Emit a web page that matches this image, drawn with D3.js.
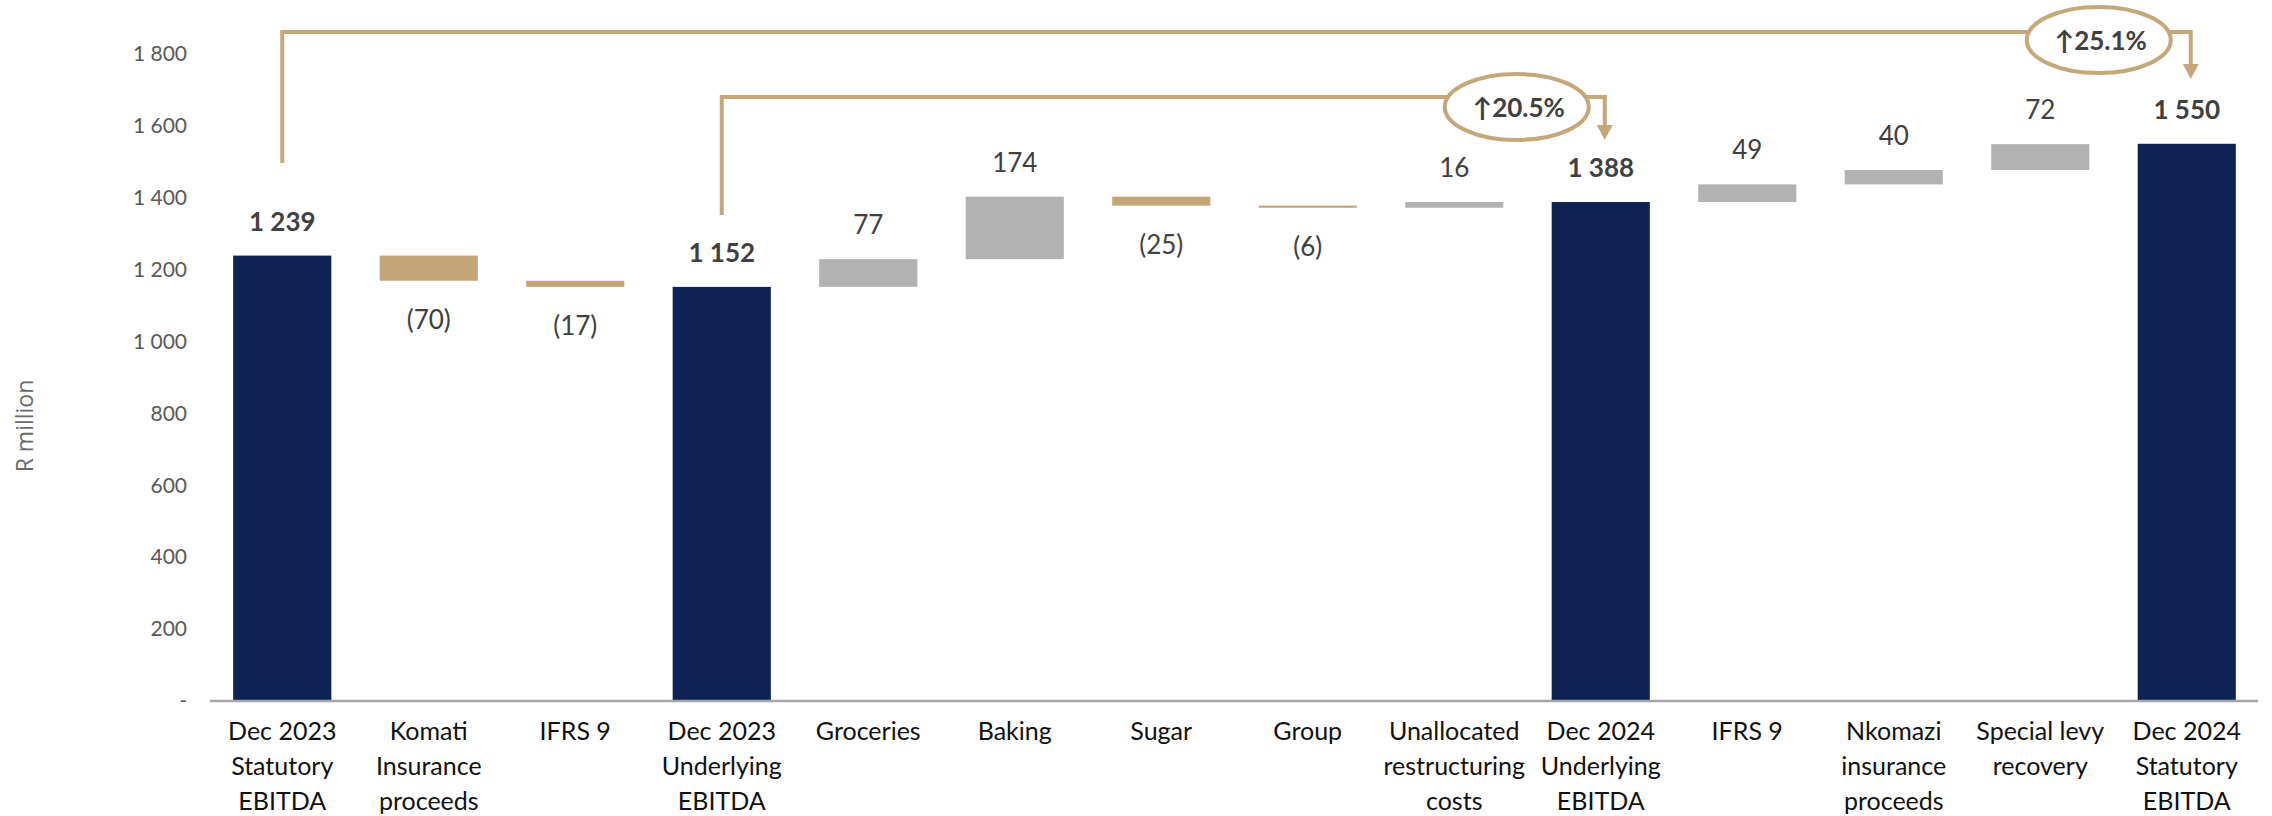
<!DOCTYPE html>
<html>
<head>
<meta charset="utf-8">
<script src="https://cdn.jsdelivr.net/npm/d3@7"></script>
<style>
  html, body { margin: 0; padding: 0; background: #fff; }
  svg { display: block; }
</style>
</head>
<body>
<div id="chart"></div>
<script>
// EBITDA bridge, R million
const categories = [
  ["Dec 2023", "Statutory", "EBITDA"],
  ["Komati", "Insurance", "proceeds"],
  ["IFRS 9"],
  ["Dec 2023", "Underlying", "EBITDA"],
  ["Groceries"],
  ["Baking"],
  ["Sugar"],
  ["Group"],
  ["Unallocated", "restructuring", "costs"],
  ["Dec 2024", "Underlying", "EBITDA"],
  ["IFRS 9"],
  ["Nkomazi", "insurance", "proceeds"],
  ["Special levy", "recovery"],
  ["Dec 2024", "Statutory", "EBITDA"]
];
// "total" bars start at zero; "delta" bars float on the running total
const kinds  = ["total", "delta", "delta", "total", "delta", "delta", "delta", "delta", "delta", "total", "delta", "delta", "delta", "total"];
const values = [1239, -70, -17, 1152, 77, 174, -25, -6, 16, 1388, 49, 40, 72, 1550];

const yTicks = [0, 200, 400, 600, 800, 1000, 1200, 1400, 1600, 1800];

// growth call-outs: from bar index -> to bar index
const growthFrom   = [3, 0];
const growthTo     = [9, 13];
const growthLabels = ["\u219120.5%", "\u219125.1%"];

const W = 2272, H = 816;
const colors = { total: "#0E2353", up: "#B2B2B2", down: "#C4A577", bracket: "#C4A87A" };

const svg = d3.select("#chart").append("svg").attr("width", W).attr("height", H);

const x = d3.scaleBand().domain(d3.range(categories.length)).range([209, 2260]).paddingInner(0.33).paddingOuter(0.165);
const y = d3.scaleLinear().domain([0, 1800]).range([701, 701 - 1800 * 0.3595]);

// running totals -> bar extents
let running = 0;
const bars = values.map((v, i) => {
  let lo, hi;
  if (kinds[i] === "total") { lo = 0; hi = v; running = v; }
  else { const start = running; running += v; lo = Math.min(start, running); hi = Math.max(start, running); }
  return { i, v, kind: kinds[i], lo, hi };
});

const locale = d3.formatLocale({ decimal: ".", thousands: " ", grouping: [3], currency: ["", ""] });
const fmt = locale.format(",d");
const tickFmt = d => d === 0 ? "-" : fmt(d);
const labelFmt = d => d < 0 ? "(" + fmt(-d) + ")" : fmt(d);

// y axis (labels only)
const yAxis = d3.axisLeft(y).tickValues(yTicks).tickFormat(tickFmt).tickSize(0).tickPadding(0);
const yg = svg.append("g").attr("transform", "translate(187,0)").call(yAxis);
yg.select(".domain").remove();
yg.selectAll("text")
  .attr("font-family", "Lato, 'Open Sans', sans-serif")
  .attr("font-size", 21)
  .attr("fill", "#595959");

svg.append("text")
  .attr("transform", "translate(33,426) rotate(-90)")
  .attr("text-anchor", "middle")
  .attr("font-family", "'Open Sans', sans-serif")
  .attr("font-size", 23)
  .attr("fill", "#6a6a6a")
  .text("R million");

// bars
svg.append("g").selectAll("rect").data(bars).join("rect")
  .attr("x", d => x(d.i))
  .attr("width", x.bandwidth())
  .attr("y", d => y(d.hi))
  .attr("height", d => Math.max(1.5, y(d.lo) - y(d.hi)))
  .attr("fill", d => d.kind === "total" ? colors.total : (d.v >= 0 ? colors.up : colors.down));

// x axis line
svg.append("line")
  .attr("x1", 210).attr("x2", 2258)
  .attr("y1", y(0)).attr("y2", y(0))
  .attr("stroke", "#A6A6A6").attr("stroke-width", 2.5);

// category labels
const catG = svg.append("g");
categories.forEach((lines, i) => {
  const t = catG.append("text")
    .attr("text-anchor", "middle")
    .attr("font-family", "Lato, 'Open Sans', sans-serif")
    .attr("font-size", 25)
    .attr("fill", "#111");
  lines.forEach((ln, k) => {
    t.append("tspan").attr("x", x(i) + x.bandwidth() / 2).attr("y", 740 + k * 35).text(ln);
  });
});

// value labels
svg.append("g").selectAll("text").data(bars).join("text")
  .attr("x", d => x(d.i) + x.bandwidth() / 2)
  .attr("y", d => d.v < 0 && d.kind !== "total" ? y(d.lo) + 48 : y(d.hi) - 25)
  .attr("text-anchor", "middle")
  .attr("font-family", "Lato, 'Open Sans', sans-serif")
  .attr("font-size", 26)
  .attr("font-weight", d => d.kind === "total" ? 700 : 400)
  .attr("fill", "#404040")
  .text(d => labelFmt(d.v));

// growth brackets
const bracketLayout = [
  { top: 97, leftBottom: 215, tip: 140, ellDx: -84, ellCy: 107 },
  { top: 32, leftBottom: 163, tip: 79, ellDx: -88, ellCy: 40 }
];
growthFrom.forEach((from, k) => {
  const L = bracketLayout[k];
  const x0 = x(from) + x.bandwidth() / 2;
  const x1 = x(growthTo[k]) + x.bandwidth() / 2 + 4;
  const g = svg.append("g");
  g.append("path")
    .attr("d", `M${x0},${L.leftBottom} V${L.top} H${x1} V${L.tip - 14}`)
    .attr("fill", "none").attr("stroke", colors.bracket).attr("stroke-width", 4);
  g.append("path")
    .attr("d", `M${x1 - 8},${L.tip - 15} L${x1 + 8},${L.tip - 15} L${x1},${L.tip} Z`)
    .attr("fill", colors.bracket);
  const cx = x1 - 4 + L.ellDx;
  g.append("ellipse")
    .attr("cx", cx).attr("cy", L.ellCy).attr("rx", 72).attr("ry", 33)
    .attr("fill", "#fff").attr("stroke", colors.bracket).attr("stroke-width", 4);
  g.append("text")
    .attr("x", cx + 2).attr("y", L.ellCy + 10)
    .attr("text-anchor", "middle")
    .attr("font-family", "Lato, 'DejaVu Sans', sans-serif")
    .attr("font-size", 26).attr("font-weight", 700)
    .attr("fill", "#404040")
    .text(growthLabels[k]);
});
</script>
</body>
</html>
